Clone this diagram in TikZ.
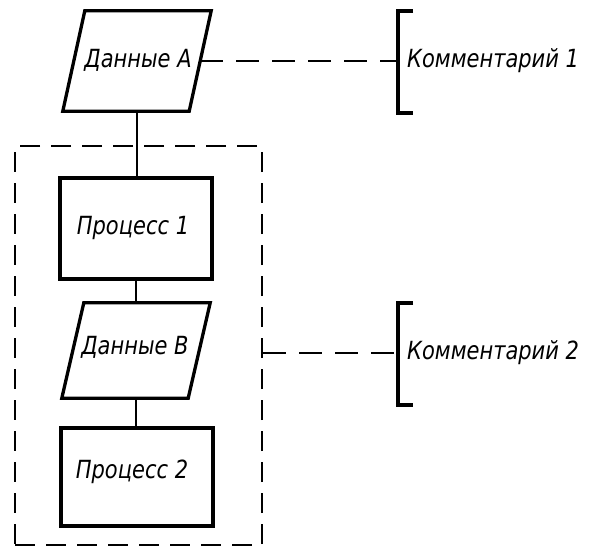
\documentclass[tikz,border=0pt]{standalone}
\usepackage{fontspec}
\newfontfamily\gost{DejaVu Sans}[FakeStretch=0.84]
\tikzset{
  x=1pt, y=-1pt,
  txt/.style={font=\gost\itshape\fontsize{25}{28}\selectfont, inner sep=0pt},
  procbox/.style={draw, line width=3.3pt, minimum width=152pt, inner sep=0pt},
  datarect/.style={minimum width=126pt, inner sep=0pt},
  dataedge/.style={line width=3.3pt, line join=miter},
  link/.style={line width=2.3pt},
  comline/.style={line width=2.4pt, dash pattern=on 23pt off 13pt},
  grpbox/.style={draw, line width=2.6pt, dash pattern=on 20pt off 11pt, minimum width=247pt, minimum height=399pt, inner sep=0pt},
  bracket/.style={line width=3.3pt},
}
\newcommand\paral[1]{\draw[dataedge] ([xshift=11pt]#1.north west) -- ([xshift=11pt]#1.north east) -- ([xshift=-11pt]#1.south east) -- ([xshift=-11pt]#1.south west) -- cycle;}
\begin{document}
\begin{tikzpicture}
\useasboundingbox (0,0) rectangle (600,549);
\node[grpbox] (grp) at (138.5,345.5) {};
\node[datarect, minimum height=100pt] (dA) at (137,61) {};
\paral{dA}
\node[txt] (tA) at (138,60) {Данные A};
\node[procbox, minimum height=101pt] (p1) at (136,228.5) {};
\node[txt] (t1) at (133,228) {Процесс 1};
\node[datarect, minimum height=95pt] (dB) at (136,350.5) {};
\paral{dB}
\node[txt] (tB) at (135,347) {Данные B};
\node[procbox, minimum height=98pt] (p2) at (137,477) {};
\node[txt] (t2) at (132,472) {Процесс 2};
\draw[link] (dA.south) -- (dA.south |- p1.north);
\draw[link] (p1.south) -- (dB.north);
\draw[link] (dB.south) -- (dB.south |- p2.north);
% comment 1
\coordinate (b1) at (398,61);
\coordinate (b1t) at (398,11);
\coordinate (b1b) at (398,113);
\draw[comline] (dA.east) -- (b1);
\draw[bracket] ([xshift=15pt]b1t) -- (b1t) -- (b1b) -- ([xshift=15pt]b1b);
\node[txt, anchor=west] (c1) at (407,61) {Комментарий 1};
% comment 2
\coordinate (g2) at (grp.east |- 0,353);
\coordinate (b2) at (398,353);
\coordinate (b2t) at (398,303);
\coordinate (b2b) at (398,405);
\draw[comline] (g2) -- (b2);
\draw[bracket] ([xshift=15pt]b2t) -- (b2t) -- (b2b) -- ([xshift=15pt]b2b);
\node[txt, anchor=west] (c2) at (407,353) {Комментарий 2};
\end{tikzpicture}
\end{document}
